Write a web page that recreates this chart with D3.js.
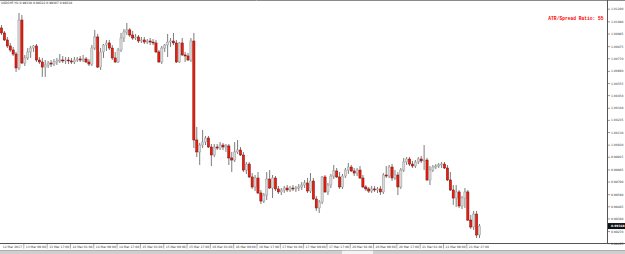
<!DOCTYPE html>
<html>
<head>
<meta charset="utf-8">
<script src="https://cdn.jsdelivr.net/npm/d3@7"></script>
<style>
  html, body { margin: 0; padding: 0; background: #fff; }
  svg { display: block; }
</style>
</head>
<body>
<svg id="chart"></svg>
<script>
// USDCHF H1 candles
const open = [
  1.01037,1.00994,1.00933,1.00881,1.00846,1.00811,1.00690,1.01106,1.00733,1.00777,
  1.00829,1.00863,1.00881,1.00759,1.00742,1.00698,1.00716,1.00733,1.00724,1.00742,
  1.00751,1.00759,1.00751,1.00759,1.00751,1.00742,1.00759,1.00768,1.00759,1.00768,1.00742,1.00724,
  1.00863,1.00959,1.00698,1.00829,1.00889,1.00907,1.00863,1.00777,1.00742,1.00846,
  1.00950,1.01002,1.01020,1.00976,1.00950,1.00959,1.00924,1.00933,1.00915,1.00924,
  1.00915,1.00907,1.00829,1.00742,1.00863,1.00889,1.00915,1.00924,1.00907,1.00742,
  1.00907,1.00803,1.00794,1.00759,1.00924,1.00065,0.99961,1.00021,1.00047,1.00082,
  1.00004,0.99935,1.00004,0.99995,1.00021,1.00004,1.00013,0.99909,0.99891,0.99961,
  0.99978,0.99935,0.99804,0.99856,0.99744,0.99657,0.99735,0.99605,0.99535,0.99587,
  0.99726,0.99648,0.99735,0.99640,0.99614,0.99631,0.99648,0.99631,0.99648,0.99640,
  0.99648,0.99657,0.99674,0.99692,0.99622,0.99709,0.99553,0.99475,0.99527,0.99744,
  0.99614,0.99674,0.99752,0.99796,0.99744,0.99657,0.99752,0.99804,0.99830,0.99796,
  0.99778,0.99804,0.99735,0.99657,0.99640,0.99622,0.99640,0.99631,0.99640,0.99614,
  0.99761,0.99752,0.99830,0.99735,0.99761,0.99657,0.99804,0.99874,0.99900,0.99856,
  0.99839,0.99874,0.99900,0.99883,0.99891,0.99718,0.99804,0.99830,0.99839,0.99848,
  0.99856,0.99822,0.99718,0.99631,0.99561,0.99614,0.99492,0.99561,0.99614,0.99370,
  0.99310,0.99422,0.99240
];
const high = [
  1.01063,1.01011,1.00959,1.00907,1.00872,1.00829,1.01167,1.01150,1.00803,1.00863,
  1.00881,1.00889,1.00898,1.00785,1.00777,1.00759,1.00751,1.00759,1.00768,1.00777,
  1.00811,1.00794,1.00785,1.00785,1.00777,1.00785,1.00785,1.00794,1.00803,1.00785,1.00768,1.00889,
  1.01020,1.00985,1.00863,1.00898,1.00933,1.00933,1.00889,1.00829,1.00863,1.00994,
  1.01028,1.01080,1.01037,1.01011,1.00985,1.00976,1.00959,1.00959,1.00941,1.00950,
  1.00941,1.00933,1.00846,1.00881,1.00898,1.00985,1.00950,1.00994,1.00933,1.00915,
  1.00950,1.00829,1.00820,1.00950,1.00994,1.00178,1.00039,1.00152,1.00100,1.00100,
  1.00030,1.00030,1.00030,1.00047,1.00039,1.00030,1.00030,0.99961,1.00047,1.00065,
  1.00004,0.99961,0.99874,0.99874,0.99778,0.99761,0.99787,0.99631,0.99605,0.99787,
  0.99804,0.99761,0.99752,0.99666,0.99648,0.99666,0.99674,0.99666,0.99674,0.99666,
  0.99683,0.99700,0.99718,0.99735,0.99778,0.99735,0.99579,0.99544,0.99752,0.99761,
  0.99692,0.99770,0.99848,0.99822,0.99787,0.99770,0.99822,0.99865,0.99848,0.99822,
  0.99822,0.99839,0.99761,0.99674,0.99657,0.99666,0.99666,0.99657,0.99666,0.99778,
  0.99839,0.99848,0.99856,0.99804,0.99787,0.99822,0.99909,0.99917,0.99917,0.99883,
  0.99891,0.99917,0.99926,1.00021,0.99909,0.99839,0.99848,0.99856,0.99865,0.99874,
  0.99874,0.99848,0.99787,0.99674,0.99674,0.99631,0.99579,0.99648,0.99631,0.99414,
  0.99449,0.99449,0.99336
];
const low = [
  1.00976,1.00924,1.00863,1.00829,1.00794,1.00655,1.00672,1.00724,1.00707,1.00759,
  1.00777,1.00829,1.00742,1.00724,1.00612,1.00612,1.00690,1.00698,1.00707,1.00716,
  1.00733,1.00733,1.00724,1.00724,1.00724,1.00724,1.00742,1.00742,1.00742,1.00733,1.00707,1.00707,
  1.00846,1.00690,1.00672,1.00777,1.00837,1.00846,1.00759,1.00733,1.00733,1.00829,
  1.00915,1.00976,1.00959,1.00933,1.00933,1.00907,1.00907,1.00898,1.00898,1.00889,
  1.00889,1.00820,1.00733,1.00724,1.00829,1.00785,1.00872,1.00889,1.00733,1.00733,
  1.00794,1.00742,1.00751,1.00742,0.99995,0.99917,0.99848,0.99995,1.00021,0.99995,
  0.99839,0.99917,0.99978,0.99978,0.99978,0.99961,0.99848,0.99787,0.99874,0.99943,
  0.99926,0.99787,0.99770,0.99735,0.99640,0.99622,0.99596,0.99509,0.99518,0.99544,
  0.99640,0.99561,0.99622,0.99596,0.99587,0.99605,0.99614,0.99614,0.99622,0.99614,
  0.99622,0.99631,0.99648,0.99605,0.99605,0.99544,0.99449,0.99431,0.99509,0.99605,
  0.99587,0.99648,0.99726,0.99735,0.99640,0.99640,0.99735,0.99770,0.99787,0.99752,
  0.99752,0.99726,0.99648,0.99622,0.99605,0.99605,0.99614,0.99605,0.99587,0.99596,
  0.99735,0.99735,0.99709,0.99718,0.99587,0.99640,0.99787,0.99848,0.99839,0.99822,
  0.99822,0.99856,0.99865,0.99804,0.99709,0.99674,0.99787,0.99813,0.99822,0.99822,
  0.99813,0.99709,0.99622,0.99501,0.99483,0.99475,0.99466,0.99475,0.99362,0.99292,
  0.99284,0.99214,0.99214
];
const close = [
  1.00994,1.00933,1.00881,1.00846,1.00811,1.00690,1.01106,1.00733,1.00777,1.00829,
  1.00863,1.00881,1.00759,1.00742,1.00698,1.00716,1.00733,1.00724,1.00742,1.00751,
  1.00759,1.00751,1.00759,1.00751,1.00742,1.00759,1.00768,1.00759,1.00768,1.00742,1.00724,1.00863,
  1.00959,1.00698,1.00829,1.00889,1.00907,1.00863,1.00777,1.00742,1.00846,1.00950,
  1.01002,1.01020,1.00976,1.00950,1.00959,1.00924,1.00933,1.00915,1.00924,1.00915,
  1.00907,1.00829,1.00742,1.00863,1.00889,1.00915,1.00924,1.00907,1.00742,1.00907,
  1.00803,1.00794,1.00759,1.00924,1.00065,0.99961,1.00021,1.00047,1.00082,1.00004,
  0.99935,1.00004,0.99995,1.00021,1.00004,1.00013,0.99909,0.99891,0.99961,0.99978,
  0.99935,0.99804,0.99856,0.99744,0.99657,0.99735,0.99605,0.99535,0.99587,0.99726,
  0.99648,0.99735,0.99640,0.99614,0.99631,0.99648,0.99631,0.99648,0.99640,0.99648,
  0.99657,0.99674,0.99692,0.99622,0.99709,0.99553,0.99475,0.99527,0.99744,0.99614,
  0.99674,0.99752,0.99796,0.99744,0.99657,0.99752,0.99804,0.99830,0.99796,0.99778,
  0.99804,0.99735,0.99657,0.99640,0.99622,0.99640,0.99631,0.99640,0.99614,0.99761,
  0.99752,0.99830,0.99735,0.99761,0.99657,0.99804,0.99874,0.99900,0.99856,0.99839,
  0.99874,0.99900,0.99883,0.99891,0.99718,0.99804,0.99830,0.99839,0.99848,0.99856,
  0.99822,0.99718,0.99631,0.99561,0.99614,0.99492,0.99561,0.99614,0.99370,0.99310,
  0.99422,0.99240,0.99318
];

// one label every 8 bars
const timeLabels = [
  "12 Mar 2017", "13 Mar 09:00", "13 Mar 17:00", "14 Mar 01:00", "14 Mar 09:00",
  "14 Mar 17:00", "15 Mar 01:00", "15 Mar 09:00", "15 Mar 17:00", "16 Mar 01:00",
  "16 Mar 09:00", "16 Mar 17:00", "17 Mar 01:00", "17 Mar 09:00", "17 Mar 17:00",
  "20 Mar 01:00", "20 Mar 09:00", "20 Mar 17:00", "21 Mar 01:00", "21 Mar 09:00",
  "21 Mar 17:00"
];
const priceTicks = [
  "1.01200", "1.01090", "1.00985", "1.00875", "1.00770", "1.00660", "1.00555",
  "1.00450", "1.00340", "1.00235", "1.00130", "1.00020", "0.99915", "0.99805",
  "0.99700", "0.99590", "0.99485", "0.99380", "0.99270", "0.99165"
];
const symbolInfo = "USDCHF,H1  0.99310 0.99322 0.99307 0.99318";
const ratioText = "ATR/Spread Ratio: 55";
const lastPrice = 0.99318;

const W = 625, H = 254;
const plotRight = 607.5, plotBottom = 243.5;
const barsPerLabel = 8;
const smallFont = 3.0;

const svg = d3.select("#chart").attr("width", W).attr("height", H);

const x = d3.scaleLinear().domain([0, open.length - 1]).range([1.5, 479.5]);
const y = d3.scaleLinear().domain([0.9917, 1.0120]).range([243.1, 9.2]);

const bars = d3.range(open.length).map(i => ({
  i, o: open[i], h: high[i], l: low[i], c: close[i]
}));

// frame
svg.append("line").attr("x1", 0).attr("x2", W).attr("y1", 0.5).attr("y2", 0.5)
  .attr("stroke", "#8a8a8a");
svg.append("line").attr("x1", plotRight).attr("x2", plotRight).attr("y1", 0).attr("y2", plotBottom)
  .attr("stroke", "#555");
svg.append("line").attr("x1", 0).attr("x2", W).attr("y1", plotBottom).attr("y2", plotBottom)
  .attr("stroke", "#555");

// candles
const g = svg.append("g");
g.selectAll("line.wick").data(bars).enter().append("line")
  .attr("class", "wick")
  .attr("x1", d => x(d.i)).attr("x2", d => x(d.i))
  .attr("y1", d => y(d.h)).attr("y2", d => y(d.l))
  .attr("stroke", "#5a5a5a").attr("stroke-width", 0.8);

g.selectAll("rect.body").data(bars).enter().append("rect")
  .attr("class", "body")
  .attr("x", d => x(d.i) - 1.1)
  .attr("width", 2.2)
  .attr("y", d => y(Math.max(d.o, d.c)))
  .attr("height", d => Math.max(0.8, Math.abs(y(d.o) - y(d.c))))
  .attr("fill", d => d.c >= d.o ? "#d8d8d8" : "#ee1c0e")
  .attr("stroke", d => d.c >= d.o ? "#9a9a9a" : "#7a0e08")
  .attr("stroke-width", 0.5);

// price axis
const yAxis = svg.append("g");
priceTicks.forEach(t => {
  const yy = y(+t);
  yAxis.append("line").attr("x1", plotRight).attr("x2", plotRight + 2.5)
    .attr("y1", yy).attr("y2", yy).attr("stroke", "#555").attr("stroke-width", 0.6);
  yAxis.append("text").attr("x", plotRight + 3.5).attr("y", yy)
    .attr("dy", "0.35em")
    .attr("font-family", "DejaVu Sans, sans-serif").attr("font-size", smallFont)
    .attr("fill", "#333").text(t);
});

// current price tag
const ly = y(lastPrice);
svg.append("rect").attr("x", plotRight + 0.5).attr("y", ly - 3)
  .attr("width", W - plotRight).attr("height", 6).attr("fill", "#111");
svg.append("text").attr("x", plotRight + 3.5).attr("y", ly).attr("dy", "0.35em")
  .attr("font-family", "DejaVu Sans, sans-serif").attr("font-size", smallFont)
  .attr("font-weight", "bold").attr("fill", "#fff").text(lastPrice.toFixed(5));

// time axis
const tAxis = svg.append("g");
timeLabels.forEach((t, k) => {
  const bx = x(k * barsPerLabel);
  if (k > 0) {
    tAxis.append("line").attr("x1", bx - 1).attr("x2", bx - 1)
      .attr("y1", plotBottom).attr("y2", plotBottom + 5)
      .attr("stroke", "#555").attr("stroke-width", 0.5);
  }
  tAxis.append("text")
    .attr("x", k === 0 ? x(barsPerLabel) - 3 : bx + 1)
    .attr("text-anchor", k === 0 ? "end" : "start")
    .attr("y", plotBottom + 3.3).attr("dy", "0.35em")
    .attr("font-family", "DejaVu Sans, sans-serif").attr("font-size", smallFont)
    .attr("fill", "#333").text(t);
});

// bottom tab strip
svg.append("rect").attr("x", 0).attr("y", 250.5).attr("width", W).attr("height", 4)
  .attr("fill", "#cfcfcf");
svg.append("line").attr("x1", 0).attr("x2", W).attr("y1", 250.5).attr("y2", 250.5)
  .attr("stroke", "#8a8a8a").attr("stroke-width", 0.6);
svg.append("rect").attr("x", 342).attr("y", 250.8).attr("width", 31).attr("height", 4)
  .attr("fill", "#f4f4f4");

// header texts
svg.append("text").attr("x", 1).attr("y", 4.2)
  .attr("font-family", "DejaVu Sans, sans-serif").attr("font-size", smallFont)
  .attr("fill", "#222").text(symbolInfo);
svg.append("text").attr("x", 603.5).attr("y", 19.8).attr("text-anchor", "end")
  .attr("font-family", "Liberation Mono, monospace").attr("font-size", 4.6)
  .attr("font-weight", "bold").attr("fill", "#ff0000").text(ratioText);
</script>
</body>
</html>
